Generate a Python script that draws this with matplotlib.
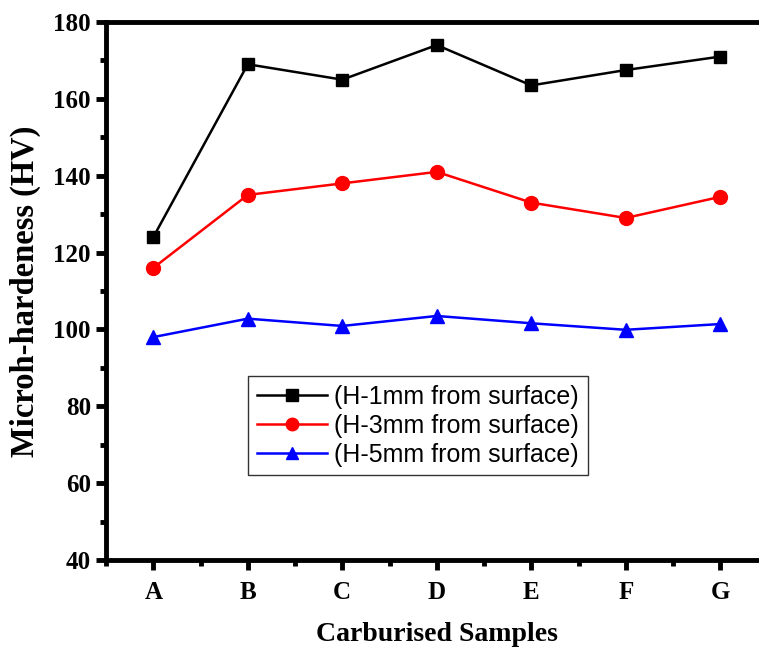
import matplotlib.pyplot as plt
from matplotlib.ticker import MultipleLocator

samples = ['A', 'B', 'C', 'D', 'E', 'F', 'G']
h1mm = [124, 169, 165, 174, 163.5, 167.5, 171]
h3mm = [116, 135, 138, 141, 133, 129, 134.5]
h5mm = [98, 102.8, 100.9, 103.5, 101.6, 99.9, 101.4]

fig = plt.figure(figsize=(7.59, 6.47), dpi=100)
ax = fig.add_axes([0.1397, 0.1345, 0.8715, 0.8315])

x = list(range(1, len(samples) + 1))
ax.plot(x, h1mm, color='black', marker='s', ms=9, lw=1.8, label='(H-1mm from surface)')
ax.plot(x, h3mm, color='red', marker='o', ms=10, lw=1.8, label='(H-3mm from surface)')
ax.plot(x, h5mm, color='blue', marker='^', ms=10, lw=1.8, label='(H-5mm from surface)')

ax.set_xlim(0.5, 7.5)
ax.set_ylim(40, 180)
ax.set_xticks(x)
ax.set_xticklabels(samples)
ax.xaxis.set_minor_locator(MultipleLocator(0.5))
ax.yaxis.set_major_locator(MultipleLocator(20))
ax.yaxis.set_minor_locator(MultipleLocator(10))

for s in ax.spines.values():
    s.set_linewidth(3.5)
ax.tick_params(which='major', direction='out', length=7, width=3.5, top=False, right=False)
ax.tick_params(which='minor', direction='out', length=4, width=3.5, top=False, right=False)
for lab in ax.get_xticklabels() + ax.get_yticklabels():
    lab.set_fontfamily('Liberation Serif')
    lab.set_fontweight('bold')
    lab.set_fontsize(18)
ax.tick_params(axis='x', pad=8)
ax.tick_params(axis='y', pad=4)

ax.set_xlabel('Carburised Samples', fontfamily='Liberation Serif', fontweight='bold', fontsize=20, labelpad=13)
ax.set_ylabel('Microh-hardeness (HV)', fontfamily='Liberation Serif', fontweight='bold', fontsize=23.5, labelpad=9)

leg = ax.legend(loc='upper left', bbox_to_anchor=(0.2147, 0.342), borderaxespad=0,
                prop={'family': 'Liberation Sans', 'size': 18},
                fancybox=False, framealpha=1, edgecolor='#333333', handlelength=2.8,
                borderpad=0.35, labelspacing=0.2, handletextpad=0.3, markerscale=0.9)
leg.get_frame().set_linewidth(1.0)

fig.savefig('out.png', dpi=100)
